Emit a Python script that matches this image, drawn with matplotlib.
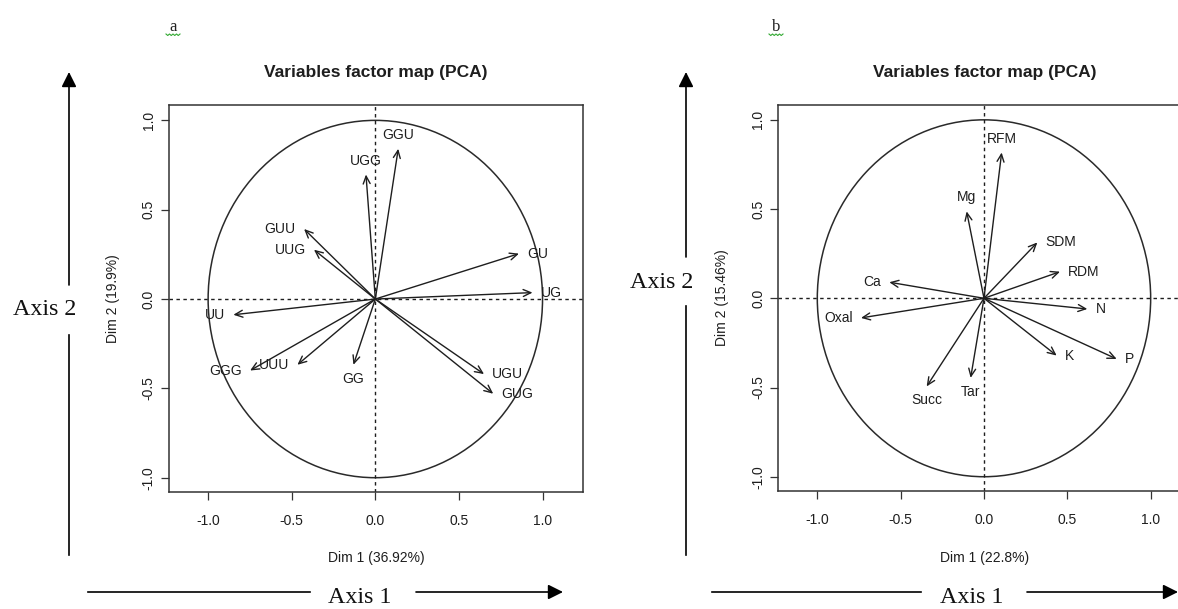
import numpy as np
import matplotlib
matplotlib.use("Agg")
import matplotlib.pyplot as plt
from matplotlib.patches import Circle, FancyArrowPatch
from matplotlib.lines import Line2D

plt.rcParams['axes.unicode_minus'] = False
plt.rcParams['font.family'] = ['Liberation Sans', 'DejaVu Sans']

# ---------------- data ----------------
title = "Variables factor map (PCA)"
ticks = [-1.0, -0.5, 0.0, 0.5, 1.0]
tick_labels = ["-1.0", "-0.5", "0.0", "0.5", "1.0"]

vars_a = ["GGU", "UGG", "GUU", "UUG", "GU", "UG", "UU", "GGG", "UUU", "GG", "UGU", "GUG"]
dim1_a = [0.137, -0.056, -0.426, -0.367, 0.859, 0.940, -0.849, -0.749, -0.466, -0.131, 0.650, 0.705]
dim2_a = [0.841, 0.697, 0.392, 0.276, 0.254, 0.036, -0.088, -0.400, -0.368, -0.368, -0.420, -0.530]
pos_a = ["top", "top", "left", "left", "right", "right", "left", "left", "left", "bottom", "right", "right"]
xlab_a = "Dim 1 (36.92%)"
ylab_a = "Dim 2 (19.9%)"

vars_b = ["RFM", "Mg", "SDM", "RDM", "Ca", "Oxal", "N", "K", "P", "Succ", "Tar"]
dim1_b = [0.106, -0.104, 0.320, 0.456, -0.568, -0.738, 0.620, 0.436, 0.796, -0.344, -0.080]
dim2_b = [0.817, 0.487, 0.313, 0.149, 0.090, -0.110, -0.060, -0.321, -0.340, -0.494, -0.446]
pos_b = ["top", "top", "right", "right", "left", "left", "right", "right", "right", "bottom", "bottom"]
xlab_b = "Dim 1 (22.8%)"
ylab_b = "Dim 2 (15.46%)"

# ---------------- layout helpers ----------------
W, H = 1178, 609
fig = plt.figure(figsize=(W / 100, H / 100), dpi=100)


def fx(x):
    return x / W


def fy(y):
    return 1 - y / H


XLIM = (-1.234, 1.242)
YLIM = (-1.080, 1.086)
INK = "#1e1e1e"

offsets = {"top": ((0, 5), "center", "bottom"),
           "bottom": ((0, -5), "center", "top"),
           "left": ((-6, 0), "right", "center"),
           "right": ((6, 0), "left", "center")}


def panel(left, top, right, bottom, names, xs, ys, poss, xlab, ylab):
    ax = fig.add_axes([fx(left), fy(bottom), fx(right - left), (bottom - top) / H])
    ax.set_xlim(*XLIM)
    ax.set_ylim(*YLIM)
    for s in ax.spines.values():
        s.set_color("#333333")
        s.set_linewidth(1.1)
    ax.set_xticks(ticks)
    ax.set_xticklabels(tick_labels)
    ax.set_yticks(ticks)
    ax.set_yticklabels(tick_labels, rotation=90, va="center")
    ax.tick_params(axis="both", direction="out", length=5.5, width=0.9,
                   color="#333333", labelsize=10, labelcolor=INK)
    ax.tick_params(axis="x", pad=10)
    ax.tick_params(axis="y", pad=4)
    ax.axhline(0, color=INK, lw=1.0, ls=(0, (2.5, 2.5)))
    ax.axvline(0, color=INK, lw=1.0, ls=(0, (2.5, 2.5)))
    ax.add_patch(Circle((0, 0), 1.0, fill=False, ec="#2a2a2a", lw=1.1))
    for n, x, y, p in zip(names, xs, ys, poss):
        ax.annotate("", xy=(x, y), xytext=(0, 0),
                    arrowprops=dict(arrowstyle="->,head_length=0.55,head_width=0.25",
                                    color=INK, lw=1.0, shrinkA=0, shrinkB=0))
        off, ha, va = offsets[p]
        ax.annotate(n, xy=(x, y), xytext=off, textcoords="offset points",
                    ha=ha, va=va, fontsize=10, color=INK)
    cx = (left + right) / 2
    fig.text(fx(cx), fy(72.5), title, ha="center", va="center",
             fontsize=12.5, fontweight="bold", color=INK)
    fig.text(fx(cx), fy(558), xlab, ha="center", va="center", fontsize=10, color=INK)
    fig.text(fx(left - 56), fy((top + bottom) / 2), ylab, ha="center", va="center",
             rotation=90, fontsize=10, color=INK)
    return ax


panel(169, 105, 583, 492, vars_a, dim1_a, dim2_a, pos_a, xlab_a, ylab_a)
panel(778.3, 104.5, 1191, 491, vars_b, dim1_b, dim2_b, pos_b, xlab_b, ylab_b)

# ---------------- outer axis annotations ----------------
SERIF = ['Liberation Serif', 'DejaVu Serif']


def seg(x0, y0, x1, y1, head=False):
    if head:
        a = FancyArrowPatch((fx(x0), fy(y0)), (fx(x1), fy(y1)), transform=fig.transFigure,
                            arrowstyle="-|>,head_length=0.9,head_width=0.45",
                            mutation_scale=10, color="black", lw=1.2,
                            shrinkA=0, shrinkB=0)
        fig.add_artist(a)
    else:
        fig.add_artist(Line2D([fx(x0), fx(x1)], [fy(y0), fy(y1)], color="black", lw=1.2,
                              transform=fig.transFigure))


# vertical "Axis 2" arrows
seg(69, 555, 69, 335)
seg(69, 285, 69, 72, head=True)
fig.text(fx(45), fy(315), "Axis 2", ha="center", va="baseline", fontsize=17.3,
         family=SERIF, color="#111111")
seg(686, 555, 686, 306)
seg(686, 257, 686, 72, head=True)
fig.text(fx(662), fy(288), "Axis 2", ha="center", va="baseline", fontsize=17.3,
         family=SERIF, color="#111111")

# horizontal "Axis 1" arrows
seg(88, 592, 310, 592)
seg(416, 592, 563, 592, head=True)
fig.text(fx(360), fy(603), "Axis 1", ha="center", va="baseline", fontsize=17.3,
         family=SERIF, color="#111111")
seg(712, 592, 921, 592)
seg(1027, 592, 1178, 592, head=True)
fig.text(fx(972), fy(603), "Axis 1", ha="center", va="baseline", fontsize=17.3,
         family=SERIF, color="#111111")

# panel letters with spell-check squiggle
for letter, lx in (("a", 173), ("b", 776)):
    fig.text(fx(lx), fy(31), letter, ha="center", va="baseline", fontsize=12,
             family=SERIF, color="#222222")
    sx = np.linspace(lx - 7, lx + 7, 9)
    sy = 34 + np.array([0, 1.5, 0, 1.5, 0, 1.5, 0, 1.5, 0])
    fig.add_artist(Line2D(fx(sx), fy(sy), color="#33aa33", lw=0.8,
                          transform=fig.transFigure))

fig.savefig("out.png", dpi=100)
